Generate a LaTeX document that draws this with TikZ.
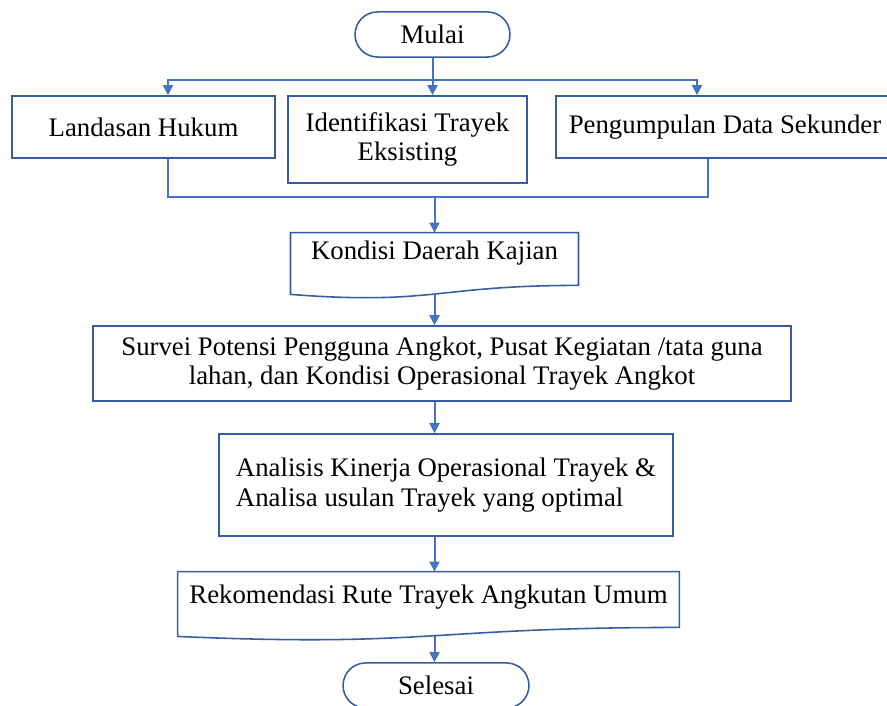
\documentclass[tikz,border=0pt]{standalone}
\usepackage{fontspec}
\setmainfont{Liberation Serif}
\usetikzlibrary{arrows.meta, positioning, calc, shapes.misc}

\definecolor{boxblue}{RGB}{52,94,160}
\definecolor{arrowblue}{RGB}{68,114,196}

\begin{document}
\begin{tikzpicture}[
  x=0.448pt, y=-0.448pt,
  font=\fontsize{12}{13.2}\selectfont,
  box/.style={
    draw=boxblue,
    line width=0.7pt,
    align=center,
    inner sep=0pt
  },
  terminal/.style={
    draw=boxblue,
    line width=0.7pt,
    rounded rectangle,
    minimum height=20.2pt,
    inner sep=0pt
  },
  wave/.style={draw=boxblue, line width=0.7pt},
  arrow/.style={-{Triangle[length=4.5pt,width=4.5pt]}, draw=arrowblue, line width=0.9pt},
  bus/.style={draw=arrowblue, line width=0.7pt}
]
\useasboundingbox (0,0) rectangle (887,706);

% --- Start ---
\node[terminal, minimum width=69.4pt] (mulai) at (432.5,34.5) {Mulai};

% --- Inputs ---
\node[box, minimum width=117.8pt, minimum height=27.8pt] (hukum) at (143.5,127)
{Landasan Hukum};

\node[box, minimum width=107.1pt, minimum height=39pt] (ident) at (407.5,139.5)
{Identifikasi Trayek\\ Eksisting};

\node[box, minimum width=151.4pt, minimum height=27.8pt] (sekunder) at (725,127)
{Pengumpulan Data Sekunder};

% --- Study area (document shape) ---
\node[minimum width=128.6pt, minimum height=17.9pt, inner sep=0pt] (kajian) at (434.5,253)
{Kondisi Daerah Kajian};
\draw[wave] (kajian.north west) -- (kajian.north east) -- ($(kajian.south east)+(0,12)$)
  .. controls ($(kajian.south)+(0,12)$) and ($(kajian.south)+(0,32)$) ..
  ($(kajian.south west)+(0,21)$) coordinate[pos=0.5] (kajianwave) -- cycle;

% --- Survey ---
\node[box, minimum width=312.7pt, minimum height=33.6pt] (survei) at (442,363.5)
{Survei Potensi Pengguna Angkot, Pusat Kegiatan /tata guna\\
lahan, dan Kondisi Operasional Trayek Angkot};

% --- Analysis ---
\node[box, align=left, minimum width=203.4pt, minimum height=45.7pt] (analisis) at (446,485)
{Analisis Kinerja Operasional Trayek \&\\
Analisa usulan Trayek yang optimal};

% --- Recommendation (document shape) ---
\node[minimum width=224.4pt, minimum height=22.4pt, inner sep=0pt] (rekom) at (428.5,597)
{Rekomendasi Rute Trayek Angkutan Umum};
\draw[wave] (rekom.north west) -- (rekom.north east) -- ($(rekom.south east)+(0,5)$)
  .. controls ($(rekom.south)+(0,5)$) and ($(rekom.south)+(0,25)$) ..
  ($(rekom.south west)+(0,14)$) coordinate[pos=0.5] (rekomwave) -- cycle;

% --- End ---
\node[terminal, minimum width=83.3pt] (selesai) at (436,685.5) {Selesai};

% --- Connectors ---
\coordinate (axis) at (434.5,0);
\coordinate (topbus) at ($(mulai.south)+(0,22)$);
\coordinate (botbus) at ($(ident.south -| axis)+(0,13)$);

\draw[arrow] (mulai.south) -- (mulai.south |- ident.north);
\draw[arrow] (topbus) -| ($(hukum.north)+(24.5,0)$);
\draw[arrow] (topbus) -| ($(sekunder.north)+(-28,0)$);

\draw[bus] ($(hukum.south)+(24.5,0)$) |- (botbus) -| ($(sekunder.south)+(-17,0)$);
\draw[arrow] (botbus) -- (kajian.north -| axis);

\draw[arrow] (kajianwave) -- (kajianwave |- survei.north);
\draw[arrow] (survei.south -| axis) -- (analisis.north -| axis);
\draw[arrow] (analisis.south -| axis) -- (rekom.north -| axis);
\draw[arrow] (rekomwave -| axis) -- (selesai.north -| axis);

\end{tikzpicture}
\end{document}
